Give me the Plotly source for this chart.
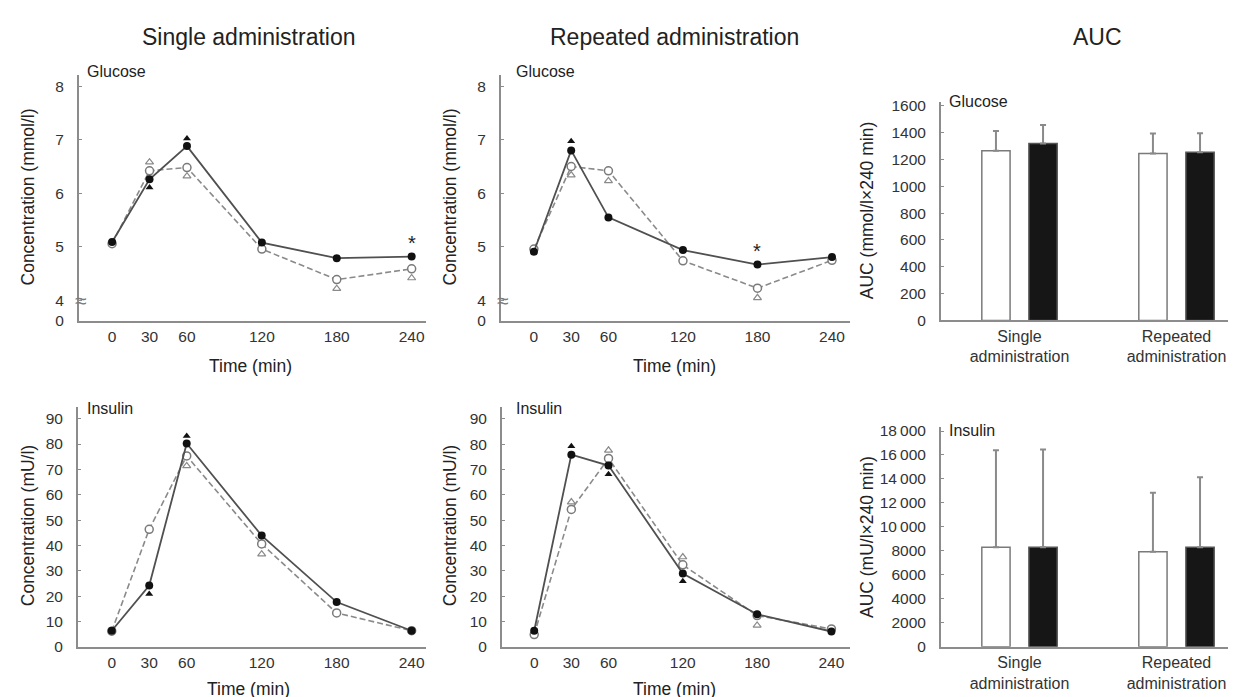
import plotly.graph_objects as go

W, H = 1236, 697

# ---------------- data ----------------
time_min = [0, 30, 60, 120, 180, 240]
time_ticks = [0, 30, 60, 120, 180, 240]

# Glucose (mmol/l) - single administration
glu_single_solid = [5.09, 6.26, 6.88, 5.08, 4.79, 4.82]
glu_single_dashed = [5.06, 6.42, 6.48, 4.96, 4.39, 4.59]
glu_single_tri_filled = [None, 6.11, 7.02, None, None, None]
glu_single_tri_open = [None, 6.58, 6.32, None, 4.22, 4.42]

# Glucose (mmol/l) - repeated administration
glu_rep_solid = [4.91, 6.80, 5.55, 4.94, 4.67, 4.81]
glu_rep_dashed = [4.96, 6.50, 6.42, 4.74, 4.23, 4.75]
glu_rep_tri_filled = [None, 6.97, None, None, None, None]
glu_rep_tri_open = [None, 6.34, 6.23, None, 4.05, None]

# Insulin (mU/l) - single administration
ins_single_solid = [6.4, 24.2, 80.2, 43.9, 17.7, 6.4]
ins_single_dashed = [6.2, 46.4, 75.3, 40.6, 13.4, 6.4]
ins_single_tri_filled = [None, 20.9, 83.2, None, None, None]
ins_single_tri_open = [None, None, 71.4, 36.6, None, None]

# Insulin (mU/l) - repeated administration
ins_rep_solid = [6.4, 75.9, 71.6, 29.0, 12.9, 6.1]
ins_rep_dashed = [4.9, 54.3, 74.4, 32.4, 12.4, 7.1]
ins_rep_tri_filled = [None, 79.2, 68.2, 25.9, None, None]
ins_rep_tri_open = [None, 57.2, 77.6, 35.5, 8.5, None]

glu_tick_vals = [3.62, 4, 5, 6, 7, 8]
glu_tick_text = ["0", "4", "5", "6", "7", "8"]
ins_tick_vals = [0, 10, 20, 30, 40, 50, 60, 70, 80, 90]

# AUC
auc_groups = ["Single administration", "Repeated administration"]
auc_group_labels = ["Single<br>administration", "Repeated<br>administration"]
auc_glu_open = [1264, 1245]
auc_glu_open_sd = [149, 148]
auc_glu_filled = [1318, 1254]
auc_glu_filled_sd = [139, 142]
auc_ins_open = [8300, 7920]
auc_ins_open_sd = [8100, 4930]
auc_ins_filled = [8300, 8300]
auc_ins_filled_sd = [8150, 5850]

auc_glu_tick_vals = [0, 200, 400, 600, 800, 1000, 1200, 1400, 1600]
auc_ins_tick_vals = [0, 2000, 4000, 6000, 8000, 10000, 12000, 14000, 16000, 18000]
auc_ins_tick_text = ["0", "2000", "4000", "6000", "8000", "10\u2009000",
                     "12\u2009000", "14\u2009000", "16\u2009000", "18\u2009000"]

# ---------------- style ----------------
FONT = "Liberation Sans, Arial, Helvetica, sans-serif"
TXT = "#222222"
AXC = "#8c8c8c"
SOLID = "#505050"
DASH = "#8a8a8a"

def px_x(p):
    return p / W

def px_y(p):
    return 1 - p / H

fig = go.Figure()

def add_time_panel(n, solid, dashed, tri_f, tri_o):
    xa = "x" if n == 1 else f"x{n}"
    ya = "y" if n == 1 else f"y{n}"
    fig.add_trace(go.Scatter(x=time_min, y=tri_o, xaxis=xa, yaxis=ya, mode="markers",
                             marker=dict(symbol="triangle-up-open", size=7, color=DASH,
                                         line=dict(width=1.2, color=DASH)),
                             hoverinfo="skip"))
    fig.add_trace(go.Scatter(x=time_min, y=tri_f, xaxis=xa, yaxis=ya, mode="markers",
                             marker=dict(symbol="triangle-up", size=7, color="#111111"),
                             hoverinfo="skip"))
    fig.add_trace(go.Scatter(x=time_min, y=dashed, xaxis=xa, yaxis=ya, mode="lines+markers",
                             line=dict(color=DASH, width=1.6, dash="6px,3px"),
                             marker=dict(symbol="circle", size=8, color="white",
                                         line=dict(width=1.5, color="#7a7a7a"))))
    fig.add_trace(go.Scatter(x=time_min, y=solid, xaxis=xa, yaxis=ya, mode="lines+markers",
                             line=dict(color=SOLID, width=1.8),
                             marker=dict(symbol="circle", size=8, color="#111111")))

add_time_panel(1, glu_single_solid, glu_single_dashed, glu_single_tri_filled, glu_single_tri_open)
add_time_panel(2, glu_rep_solid, glu_rep_dashed, glu_rep_tri_filled, glu_rep_tri_open)
add_time_panel(4, ins_single_solid, ins_single_dashed, ins_single_tri_filled, ins_single_tri_open)
add_time_panel(5, ins_rep_solid, ins_rep_dashed, ins_rep_tri_filled, ins_rep_tri_open)

def add_auc_panel(n, open_v, open_sd, fill_v, fill_sd):
    xa = f"x{n}"
    ya = f"y{n}"
    err = dict(color="#8a8a8a", thickness=2, width=3)
    fig.add_trace(go.Bar(x=auc_groups, y=open_v, xaxis=xa, yaxis=ya, width=0.18, offset=-0.24,
                         marker=dict(color="white", line=dict(color="#7a7a7a", width=1.5)),
                         error_y=dict(type="data", array=open_sd, arrayminus=[0] * len(open_sd),
                                      symmetric=False, **err)))
    fig.add_trace(go.Bar(x=auc_groups, y=fill_v, xaxis=xa, yaxis=ya, width=0.18, offset=0.06,
                         marker=dict(color="#161616", line=dict(color="#555555", width=1.5)),
                         error_y=dict(type="data", array=fill_sd, arrayminus=[0] * len(fill_sd),
                                      symmetric=False, **err)))

add_auc_panel(3, auc_glu_open, auc_glu_open_sd, auc_glu_filled, auc_glu_filled_sd)
add_auc_panel(6, auc_ins_open, auc_ins_open_sd, auc_ins_filled, auc_ins_filled_sd)

tickfont = dict(family=FONT, size=15.5, color="#333333")

def yaxis_common(**kw):
    d = dict(showline=True, linecolor=AXC, linewidth=2, ticks="inside", ticklen=3,
             tickwidth=1, tickcolor=AXC, showgrid=False, zeroline=False,
             tickfont=tickfont, ticklabelstandoff=10, fixedrange=True)
    d.update(kw)
    return d

def xaxis_time(**kw):
    d = dict(showline=True, linecolor=AXC, linewidth=2, ticks="", showgrid=False,
             zeroline=False, tickvals=time_ticks, tickfont=tickfont, ticklabelstandoff=0)
    d.update(kw)
    return d

def xaxis_cat(**kw):
    d = dict(type="category", showline=True, linecolor=AXC, linewidth=2, ticks="",
             showgrid=False, zeroline=False, tickvals=auc_groups, ticktext=auc_group_labels,
             range=[-0.5, 1.43], tickfont=dict(family=FONT, size=16, color="#333333"),
             ticklabelstandoff=0)
    d.update(kw)
    return d

top_y = [px_y(314), px_y(63)]
bot_y = [px_y(646), px_y(401)]

fig.update_layout(
    width=W, height=H, autosize=False,
    margin=dict(l=0, r=0, t=0, b=0),
    paper_bgcolor="white", plot_bgcolor="white",
    showlegend=False, barmode="overlay",
    font=dict(family=FONT, color=TXT),
    xaxis=xaxis_time(domain=[px_x(71), px_x(418)], range=[-26.5, 251.5], anchor="y"),
    yaxis=yaxis_common(domain=top_y, range=[3.615, 8.21], tickvals=glu_tick_vals,
                       ticktext=glu_tick_text, anchor="x"),
    xaxis2=xaxis_time(domain=[px_x(493), px_x(842)], range=[-26.5, 254.5], anchor="y2"),
    yaxis2=yaxis_common(domain=top_y, range=[3.615, 8.21], tickvals=glu_tick_vals,
                        ticktext=glu_tick_text, anchor="x2"),
    xaxis3=xaxis_cat(domain=[px_x(933), 1.0], anchor="y3"),
    yaxis3=yaxis_common(domain=[px_y(313.3), px_y(91)], range=[0, 1626],
                        tickvals=auc_glu_tick_vals, anchor="x3"),
    xaxis4=xaxis_time(domain=[px_x(70), px_x(418)], range=[-27, 251.5], anchor="y4"),
    yaxis4=yaxis_common(domain=bot_y, range=[0, 94.8], tickvals=ins_tick_vals, anchor="x4"),
    xaxis5=xaxis_time(domain=[px_x(494), px_x(842)], range=[-26, 255], anchor="y5"),
    yaxis5=yaxis_common(domain=bot_y, range=[0, 94.9], tickvals=ins_tick_vals, anchor="x5"),
    xaxis6=xaxis_cat(domain=[px_x(933), 1.0], anchor="y6"),
    yaxis6=yaxis_common(domain=[px_y(645.7), px_y(421.7)], range=[0, 18350],
                        tickvals=auc_ins_tick_vals, ticktext=auc_ins_tick_text, anchor="x6"),
)

ann = []

def paper_text(text, xp, yp, size, angle=0, xanchor="center", yanchor="middle", color=TXT):
    ann.append(dict(text=text, x=px_x(xp), y=px_y(yp), xref="paper", yref="paper",
                    showarrow=False, textangle=angle, xanchor=xanchor, yanchor=yanchor,
                    font=dict(family=FONT, size=size, color=color)))

# column titles
paper_text("Single administration", 241, 24, 23)
paper_text("Repeated administration", 667, 24, 23)
paper_text("AUC", 1089, 24, 23)

# panel labels
paper_text("Glucose", 77, 60, 16, xanchor="left")
paper_text("Glucose", 506, 60, 16, xanchor="left")
paper_text("Insulin", 77, 403, 16, xanchor="left")
paper_text("Insulin", 506, 403, 16, xanchor="left")
paper_text("Glucose", 939, 90, 16, xanchor="left")
paper_text("Insulin", 939, 425, 16, xanchor="left")

# axis titles
paper_text("Concentration (mmol/l)", 20, 188, 17.5, angle=-90)
paper_text("Concentration (mmol/l)", 442, 188, 17.5, angle=-90)
paper_text("Concentration (mU/l)", 20, 523, 17.5, angle=-90)
paper_text("Concentration (mU/l)", 442, 523, 17.5, angle=-90)
paper_text("AUC (mmol/l\u00d7240 min)", 859, 202, 17.5, angle=-90)
paper_text("AUC (mU/l\u00d7240 min)", 859, 534, 17.5, angle=-90)
paper_text("Time (min)", 242, 360, 17.5)
paper_text("Time (min)", 666, 360, 17.5)
paper_text("Time (min)", 240, 689, 17.5)
paper_text("Time (min)", 666, 689, 17.5)

# axis break marks
for xr, yr in (("x domain", "y"), ("x2 domain", "y2")):
    ann.append(dict(text="\u2248", x=0, y=4, xref=xr, yref=yr, showarrow=False,
                    xanchor="center", yanchor="middle", xshift=2,
                    font=dict(family=FONT, size=21, color="#7a7a7a")))

# significance asterisks
ann.append(dict(text="*", x=time_min[5], y=glu_single_solid[5], xref="x", yref="y",
                showarrow=False, yanchor="middle", yshift=14,
                font=dict(family=FONT, size=20, color=TXT)))
ann.append(dict(text="*", x=time_min[4], y=glu_rep_solid[4], xref="x2", yref="y2",
                showarrow=False, yanchor="middle", yshift=14,
                font=dict(family=FONT, size=20, color=TXT)))

fig.update_layout(annotations=ann)

fig.write_html("out.html")
